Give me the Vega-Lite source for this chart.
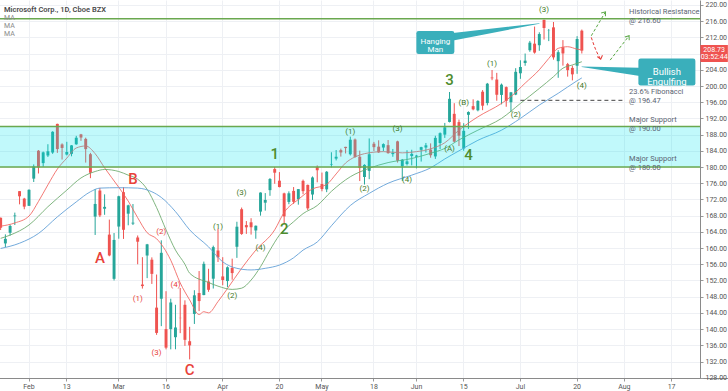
{
  "$schema": "https://vega.github.io/schema/vega-lite/v6.json",
  "width": 700,
  "height": 378,
  "autosize": {"type": "none"},
  "padding": {"left": 0, "top": 0, "right": 28, "bottom": 13},
  "background": "white",
  "config": {"view": {"stroke": null}, "font": "Roboto"},
  "title": {
    "text": "Microsoft Corp., 1D, Cboe BZX",
    "subtitle": ["MA", "MA", "MA"],
    "anchor": "start",
    "frame": "group",
    "orient": "top",
    "offset": -37,
    "dx": 4,
    "fontSize": 7.5,
    "fontWeight": 600,
    "color": "#4a4a4a",
    "subtitleFontSize": 7,
    "subtitleColor": "#8a8a8a",
    "subtitlePadding": 1,
    "subtitleLineHeight": 8
  },
  "datasets": {
    "candles": [
      {"d":"2020-01-24","o":167.51,"h":167.53,"l":164.45,"c":165.04},
      {"d":"2020-01-27","o":161.15,"h":163.38,"l":160.2,"c":162.28},
      {"d":"2020-01-28","o":163.78,"h":165.76,"l":163.07,"c":165.46},
      {"d":"2020-01-29","o":167.84,"h":168.75,"l":165.69,"c":168.04},
      {"d":"2020-01-30","o":174.05,"h":174.05,"l":170.79,"c":172.78},
      {"d":"2020-01-31","o":172.21,"h":172.4,"l":169.58,"c":170.23},
      {"d":"2020-02-03","o":170.43,"h":174.5,"l":170.4,"c":174.38},
      {"d":"2020-02-04","o":177.14,"h":180.64,"l":176.31,"c":180.12},
      {"d":"2020-02-05","o":184.03,"h":184.2,"l":178.41,"c":179.9},
      {"d":"2020-02-06","o":180.97,"h":183.82,"l":180.06,"c":183.63},
      {"d":"2020-02-07","o":182.85,"h":185.63,"l":182.48,"c":183.89},
      {"d":"2020-02-10","o":183.58,"h":188.84,"l":183.25,"c":188.7},
      {"d":"2020-02-11","o":190.65,"h":190.7,"l":183.5,"c":184.44},
      {"d":"2020-02-12","o":185.58,"h":185.85,"l":181.85,"c":184.71},
      {"d":"2020-02-13","o":183.08,"h":186.23,"l":182.87,"c":183.71},
      {"d":"2020-02-14","o":183.25,"h":185.41,"l":182.65,"c":185.35},
      {"d":"2020-02-18","o":185.61,"h":187.7,"l":185.5,"c":187.23},
      {"d":"2020-02-19","o":188.06,"h":188.18,"l":186.47,"c":187.28},
      {"d":"2020-02-20","o":186.95,"h":187.25,"l":181.1,"c":184.42},
      {"d":"2020-02-21","o":183.17,"h":183.5,"l":177.25,"c":178.59},
      {"d":"2020-02-24","o":167.77,"h":174.55,"l":163.23,"c":170.89},
      {"d":"2020-02-25","o":174.2,"h":174.84,"l":167.65,"c":168.07},
      {"d":"2020-02-26","o":169.71,"h":173.26,"l":168.21,"c":170.17},
      {"d":"2020-02-27","o":163.32,"h":167.03,"l":157.98,"c":158.18},
      {"d":"2020-02-28","o":152.41,"h":163.71,"l":152,"c":162.01},
      {"d":"2020-03-02","o":165.31,"h":172.92,"l":162.31,"c":172.79},
      {"d":"2020-03-03","o":173.8,"h":175,"l":162.26,"c":164.51},
      {"d":"2020-03-04","o":168.49,"h":170.7,"l":165.62,"c":170.55},
      {"d":"2020-03-05","o":166.05,"h":170.87,"l":165.69,"c":166.27},
      {"d":"2020-03-06","o":162.61,"h":163.11,"l":156,"c":161.57},
      {"d":"2020-03-09","o":151,"h":157.75,"l":150,"c":150.62},
      {"d":"2020-03-10","o":158.16,"h":161.03,"l":152.58,"c":160.92},
      {"d":"2020-03-11","o":157.13,"h":157.7,"l":151.15,"c":153.63},
      {"d":"2020-03-12","o":145.3,"h":153.47,"l":138.58,"c":139.06},
      {"d":"2020-03-13","o":147.5,"h":161.91,"l":140.73,"c":158.83},
      {"d":"2020-03-16","o":140,"h":149.35,"l":135,"c":135.42},
      {"d":"2020-03-17","o":140,"h":147.5,"l":135,"c":146.57},
      {"d":"2020-03-18","o":138,"h":146,"l":135.02,"c":140.4},
      {"d":"2020-03-19","o":142.77,"h":150.15,"l":139,"c":142.71},
      {"d":"2020-03-20","o":146,"h":147.1,"l":135.86,"c":137.35},
      {"d":"2020-03-23","o":137.01,"h":140.57,"l":132.52,"c":135.98},
      {"d":"2020-03-24","o":143.75,"h":149.6,"l":141.27,"c":148.34},
      {"d":"2020-03-25","o":148.91,"h":154.33,"l":144.44,"c":146.92},
      {"d":"2020-03-26","o":148.4,"h":156.66,"l":148.37,"c":156.11},
      {"d":"2020-03-27","o":151.75,"h":154.89,"l":149.2,"c":149.7},
      {"d":"2020-03-30","o":152.44,"h":160.6,"l":150.01,"c":160.23},
      {"d":"2020-03-31","o":159.4,"h":164.78,"l":156.56,"c":157.71},
      {"d":"2020-04-01","o":153,"h":157.75,"l":150.82,"c":152.11},
      {"d":"2020-04-02","o":151.86,"h":155.48,"l":150.36,"c":155.26},
      {"d":"2020-04-03","o":155.1,"h":157.38,"l":152.19,"c":153.83},
      {"d":"2020-04-06","o":160.32,"h":166.5,"l":157.58,"c":165.27},
      {"d":"2020-04-07","o":169.59,"h":170,"l":163.26,"c":163.49},
      {"d":"2020-04-08","o":165.67,"h":166.67,"l":163.5,"c":165.13},
      {"d":"2020-04-09","o":166.36,"h":167.37,"l":163.33,"c":165.14},
      {"d":"2020-04-13","o":164.35,"h":165.57,"l":162.3,"c":165.51},
      {"d":"2020-04-14","o":169,"h":173.75,"l":168,"c":173.7},
      {"d":"2020-04-15","o":171.2,"h":173.57,"l":169.24,"c":171.88},
      {"d":"2020-04-16","o":174.3,"h":177.28,"l":172.9,"c":177.04},
      {"d":"2020-04-17","o":179.5,"h":180,"l":175.87,"c":178.6},
      {"d":"2020-04-20","o":176.63,"h":178.75,"l":174.99,"c":175.06},
      {"d":"2020-04-21","o":173.5,"h":173.67,"l":166.11,"c":167.82},
      {"d":"2020-04-22","o":171.39,"h":174,"l":170.82,"c":173.52},
      {"d":"2020-04-23","o":174.11,"h":175.06,"l":170.91,"c":171.42},
      {"d":"2020-04-24","o":172.06,"h":174.56,"l":170.71,"c":174.55},
      {"d":"2020-04-27","o":176.59,"h":176.9,"l":173.3,"c":174.05},
      {"d":"2020-04-28","o":175.59,"h":175.67,"l":169.39,"c":169.81},
      {"d":"2020-04-29","o":173.22,"h":177.68,"l":171.88,"c":177.43},
      {"d":"2020-04-30","o":180,"h":180.4,"l":176.23,"c":179.21},
      {"d":"2020-05-01","o":175.8,"h":178.64,"l":174.01,"c":174.57},
      {"d":"2020-05-04","o":174.49,"h":179,"l":173.8,"c":178.84},
      {"d":"2020-05-05","o":180.62,"h":183.65,"l":179.9,"c":180.76},
      {"d":"2020-05-06","o":182.08,"h":184.2,"l":181.63,"c":182.54},
      {"d":"2020-05-07","o":184.17,"h":184.55,"l":182.58,"c":183.6},
      {"d":"2020-05-08","o":184.98,"h":185,"l":183.36,"c":184.68},
      {"d":"2020-05-11","o":183.15,"h":187.51,"l":182.85,"c":186.74},
      {"d":"2020-05-12","o":186.8,"h":187.04,"l":182.3,"c":182.51},
      {"d":"2020-05-13","o":182.55,"h":184.05,"l":176.54,"c":179.75},
      {"d":"2020-05-14","o":177.54,"h":180.69,"l":175.68,"c":180.53},
      {"d":"2020-05-15","o":179.06,"h":187.06,"l":177,"c":183.16},
      {"d":"2020-05-18","o":185.75,"h":186.2,"l":183.96,"c":184.91},
      {"d":"2020-05-19","o":185.03,"h":186.6,"l":183.49,"c":183.63},
      {"d":"2020-05-20","o":184.81,"h":185.85,"l":183.94,"c":185.66},
      {"d":"2020-05-21","o":185.4,"h":186.67,"l":183.29,"c":183.43},
      {"d":"2020-05-22","o":183.19,"h":184.46,"l":182.54,"c":183.51},
      {"d":"2020-05-26","o":186.34,"h":186.5,"l":181.1,"c":181.57},
      {"d":"2020-05-27","o":180.2,"h":181.99,"l":176.6,"c":181.81},
      {"d":"2020-05-28","o":180.74,"h":184.15,"l":180.38,"c":181.4},
      {"d":"2020-05-29","o":182.73,"h":184.27,"l":180.41,"c":183.25},
      {"d":"2020-06-01","o":182.54,"h":183,"l":179.67,"c":182.83},
      {"d":"2020-06-02","o":184.25,"h":185,"l":181.35,"c":184.91},
      {"d":"2020-06-03","o":184.82,"h":185.94,"l":183.58,"c":185.36},
      {"d":"2020-06-04","o":184.3,"h":185.84,"l":182.3,"c":182.92},
      {"d":"2020-06-05","o":182.62,"h":187.73,"l":182.01,"c":187.2},
      {"d":"2020-06-08","o":185.94,"h":188.55,"l":184.44,"c":188.36},
      {"d":"2020-06-09","o":188,"h":190.89,"l":187.19,"c":189.8},
      {"d":"2020-06-10","o":191.13,"h":198.52,"l":191.01,"c":196.84},
      {"d":"2020-06-11","o":193.13,"h":195.76,"l":186.07,"c":186.27},
      {"d":"2020-06-12","o":191.09,"h":191.72,"l":185.18,"c":187.74},
      {"d":"2020-06-15","o":184.58,"h":190.82,"l":184.01,"c":188.94},
      {"d":"2020-06-16","o":192.89,"h":193.75,"l":189.41,"c":193.57},
      {"d":"2020-06-17","o":195.03,"h":196.71,"l":194,"c":194.24},
      {"d":"2020-06-18","o":194,"h":196.49,"l":193.75,"c":196.32},
      {"d":"2020-06-19","o":198.59,"h":199,"l":194.04,"c":195.15},
      {"d":"2020-06-22","o":195.79,"h":200.76,"l":195.23,"c":200.57},
      {"d":"2020-06-23","o":202.09,"h":203.95,"l":201.43,"c":201.91},
      {"d":"2020-06-24","o":201.6,"h":203.25,"l":196.36,"c":197.84},
      {"d":"2020-06-25","o":197.8,"h":200.61,"l":195.47,"c":200.34},
      {"d":"2020-06-26","o":199.73,"h":199.89,"l":194.88,"c":196.33},
      {"d":"2020-06-29","o":196,"h":198.53,"l":193.55,"c":198.44},
      {"d":"2020-06-30","o":197.88,"h":204.4,"l":197.74,"c":203.51},
      {"d":"2020-07-01","o":203.14,"h":206.35,"l":201.77,"c":204.7},
      {"d":"2020-07-02","o":205.68,"h":208.02,"l":205,"c":206.26},
      {"d":"2020-07-06","o":208.83,"h":211.13,"l":208.44,"c":210.7},
      {"d":"2020-07-07","o":210.45,"h":214.67,"l":207.99,"c":208.25},
      {"d":"2020-07-08","o":210.07,"h":213.26,"l":208.69,"c":212.83},
      {"d":"2020-07-09","o":216.33,"h":216.38,"l":211.47,"c":214.32},
      {"d":"2020-07-10","o":213.62,"h":214.08,"l":211.08,"c":213.67},
      {"d":"2020-07-13","o":214.48,"h":215.8,"l":206.5,"c":207.07},
      {"d":"2020-07-14","o":206.13,"h":208.85,"l":202.03,"c":208.35},
      {"d":"2020-07-15","o":209.56,"h":211.33,"l":205.03,"c":208.04},
      {"d":"2020-07-16","o":205.4,"h":205.7,"l":202.31,"c":203.92},
      {"d":"2020-07-17","o":204.47,"h":205.04,"l":201.39,"c":202.88},
      {"d":"2020-07-20","o":205,"h":212.3,"l":203.01,"c":211.6},
      {"d":"2020-07-21","o":213.66,"h":213.94,"l":208.03,"c":208.73}
    ],
    "ma": [
      {"d":"2020-01-24","s":"f","p":165.4},{"d":"2020-01-29","s":"f","p":166.2},{"d":"2020-02-03","s":"f","p":167.9},{"d":"2020-02-05","s":"f","p":171.5},{"d":"2020-02-07","s":"f","p":175.6},{"d":"2020-02-11","s":"f","p":179.5},{"d":"2020-02-13","s":"f","p":182.2},{"d":"2020-02-18","s":"f","p":184.7},{"d":"2020-02-20","s":"f","p":185.2},{"d":"2020-02-24","s":"f","p":183.3},{"d":"2020-02-26","s":"f","p":179.8},{"d":"2020-03-02","s":"f","p":175.0},{"d":"2020-03-04","s":"f","p":171.6},{"d":"2020-03-06","s":"f","p":167.5},{"d":"2020-03-10","s":"f","p":163.8},{"d":"2020-03-12","s":"f","p":162.3},{"d":"2020-03-17","s":"f","p":157.0},{"d":"2020-03-19","s":"f","p":151.4},{"d":"2020-03-23","s":"f","p":147.2},{"d":"2020-03-25","s":"f","p":143.6},{"d":"2020-03-26","s":"f","p":144.3},{"d":"2020-03-27","s":"f","p":144.0},{"d":"2020-03-31","s":"f","p":146.8},{"d":"2020-04-02","s":"f","p":150.0},{"d":"2020-04-07","s":"f","p":155.0},{"d":"2020-04-13","s":"f","p":159.5},{"d":"2020-04-17","s":"f","p":164.5},{"d":"2020-04-21","s":"f","p":168.8},{"d":"2020-04-24","s":"f","p":172.0},{"d":"2020-04-29","s":"f","p":174.6},{"d":"2020-05-04","s":"f","p":175.7},{"d":"2020-05-06","s":"f","p":178.3},{"d":"2020-05-08","s":"f","p":181.0},{"d":"2020-05-12","s":"f","p":182.5},{"d":"2020-05-14","s":"f","p":183.3},{"d":"2020-05-20","s":"f","p":183.8},{"d":"2020-05-27","s":"f","p":183.5},{"d":"2020-06-01","s":"f","p":183.8},{"d":"2020-06-04","s":"f","p":184.5},{"d":"2020-06-09","s":"f","p":186.0},{"d":"2020-06-12","s":"f","p":189.1},{"d":"2020-06-18","s":"f","p":192.4},{"d":"2020-06-25","s":"f","p":195.7},{"d":"2020-06-29","s":"f","p":197.4},{"d":"2020-07-02","s":"f","p":200.7},{"d":"2020-07-08","s":"f","p":204.0},{"d":"2020-07-10","s":"f","p":206.8},{"d":"2020-07-14","s":"f","p":209.3},{"d":"2020-07-16","s":"f","p":209.7},{"d":"2020-07-20","s":"f","p":209.1},{"d":"2020-07-21","s":"f","p":208.9},
      {"d":"2020-01-24","s":"m","p":162.4},{"d":"2020-01-28","s":"m","p":163.2},{"d":"2020-02-03","s":"m","p":165.7},{"d":"2020-02-07","s":"m","p":170.2},{"d":"2020-02-13","s":"m","p":174.3},{"d":"2020-02-19","s":"m","p":177.3},{"d":"2020-02-24","s":"m","p":178.9},{"d":"2020-02-26","s":"m","p":179.4},{"d":"2020-03-02","s":"m","p":178.9},{"d":"2020-03-04","s":"m","p":178.0},{"d":"2020-03-06","s":"m","p":177.0},{"d":"2020-03-10","s":"m","p":174.5},{"d":"2020-03-12","s":"m","p":170.0},{"d":"2020-03-16","s":"m","p":164.5},{"d":"2020-03-18","s":"m","p":159.5},{"d":"2020-03-20","s":"m","p":156.0},{"d":"2020-03-23","s":"m","p":153.8},{"d":"2020-03-27","s":"m","p":151.5},{"d":"2020-03-31","s":"m","p":150.6},{"d":"2020-04-03","s":"m","p":149.8},{"d":"2020-04-07","s":"m","p":150.1},{"d":"2020-04-09","s":"m","p":152.1},{"d":"2020-04-14","s":"m","p":155.4},{"d":"2020-04-16","s":"m","p":159.5},{"d":"2020-04-20","s":"m","p":163.2},{"d":"2020-04-23","s":"m","p":166.5},{"d":"2020-04-27","s":"m","p":168.5},{"d":"2020-04-30","s":"m","p":170.5},{"d":"2020-05-05","s":"m","p":174.0},{"d":"2020-05-11","s":"m","p":177.6},{"d":"2020-05-15","s":"m","p":179.7},{"d":"2020-05-21","s":"m","p":181.1},{"d":"2020-05-29","s":"m","p":182.1},{"d":"2020-06-04","s":"m","p":183.4},{"d":"2020-06-09","s":"m","p":184.6},{"d":"2020-06-12","s":"m","p":186.7},{"d":"2020-06-18","s":"m","p":189.1},{"d":"2020-06-25","s":"m","p":192.0},{"d":"2020-07-01","s":"m","p":195.7},{"d":"2020-07-08","s":"m","p":199.4},{"d":"2020-07-13","s":"m","p":202.3},{"d":"2020-07-15","s":"m","p":204.4},{"d":"2020-07-17","s":"m","p":205.2},{"d":"2020-07-21","s":"m","p":206.0},
      {"d":"2020-01-24","s":"s","p":159.9},{"d":"2020-01-30","s":"s","p":161.2},{"d":"2020-02-05","s":"s","p":163.6},{"d":"2020-02-11","s":"s","p":167.7},{"d":"2020-02-18","s":"s","p":171.4},{"d":"2020-02-21","s":"s","p":173.9},{"d":"2020-02-25","s":"s","p":174.8},{"d":"2020-03-02","s":"s","p":174.9},{"d":"2020-03-06","s":"s","p":174.8},{"d":"2020-03-11","s":"s","p":173.9},{"d":"2020-03-13","s":"s","p":172.5},{"d":"2020-03-18","s":"s","p":169.0},{"d":"2020-03-23","s":"s","p":164.5},{"d":"2020-03-27","s":"s","p":160.3},{"d":"2020-04-01","s":"s","p":156.6},{"d":"2020-04-06","s":"s","p":155.0},{"d":"2020-04-09","s":"s","p":154.6},{"d":"2020-04-15","s":"s","p":155.0},{"d":"2020-04-20","s":"s","p":155.8},{"d":"2020-04-23","s":"s","p":157.6},{"d":"2020-04-27","s":"s","p":159.5},{"d":"2020-04-30","s":"s","p":161.5},{"d":"2020-05-05","s":"s","p":165.5},{"d":"2020-05-11","s":"s","p":170.5},{"d":"2020-05-15","s":"s","p":173.5},{"d":"2020-05-21","s":"s","p":176.0},{"d":"2020-05-29","s":"s","p":178.0},{"d":"2020-06-04","s":"s","p":179.8},{"d":"2020-06-09","s":"s","p":182.0},{"d":"2020-06-12","s":"s","p":184.0},{"d":"2020-06-18","s":"s","p":186.6},{"d":"2020-06-25","s":"s","p":189.1},{"d":"2020-07-01","s":"s","p":192.0},{"d":"2020-07-08","s":"s","p":195.3},{"d":"2020-07-14","s":"s","p":198.2},{"d":"2020-07-20","s":"s","p":201.3},{"d":"2020-07-21","s":"s","p":202.0}
    ],
    "waves": [
      {"d":"2020-02-25","p":157.55,"t":"A","k":"rb"},
      {"d":"2020-03-05","p":176.98,"t":"B","k":"rb"},
      {"d":"2020-03-23","p":129.9,"t":"C","k":"rb"},
      {"d":"2020-03-06","p":147.4,"t":"(1)","k":"rs"},
      {"d":"2020-03-13","p":164.04,"t":"(2)","k":"rs"},
      {"d":"2020-03-12","p":134.17,"t":"(3)","k":"rs"},
      {"d":"2020-03-18","p":150.88,"t":"(4)","k":"rs"},
      {"d":"2020-04-17","p":183.2,"t":"1","k":"gb"},
      {"d":"2020-04-21","p":164.63,"t":"2","k":"gb"},
      {"d":"2020-06-10","p":201.49,"t":"3","k":"gb"},
      {"d":"2020-06-16","p":182.97,"t":"4","k":"gb"},
      {"d":"2020-03-31","p":165.12,"t":"(1)","k":"gs"},
      {"d":"2020-04-03","p":148.24,"t":"(2)","k":"gs"},
      {"d":"2020-04-07","p":173.67,"t":"(3)","k":"gs"},
      {"d":"2020-04-14","p":160.09,"t":"(4)","k":"gs"},
      {"d":"2020-05-11","p":188.72,"t":"(1)","k":"gs"},
      {"d":"2020-05-14","p":174.5,"t":"(2)","k":"gs"},
      {"d":"2020-05-26","p":189.35,"t":"(3)","k":"gs"},
      {"d":"2020-05-28","p":176.8,"t":"(4)","k":"gs"},
      {"d":"2020-06-10","p":184.45,"t":"(A)","k":"gs"},
      {"d":"2020-06-15","p":195.74,"t":"(B)","k":"gs"},
      {"d":"2020-06-23","p":205.36,"t":"(1)","k":"gs"},
      {"d":"2020-06-30","p":192.85,"t":"(2)","k":"gs"},
      {"d":"2020-07-09","p":218.77,"t":"(3)","k":"gs"},
      {"d":"2020-07-21","p":200.08,"t":"(4)","k":"gs"}
    ],
    "notes": [
      {"d":"2020-08-04","p":218.27,"t":"Historical Resistance"},
      {"d":"2020-08-04","p":216.17,"t":"@ 216.60"},
      {"d":"2020-08-04","p":198.52,"t":"23.6% Fibonacci"},
      {"d":"2020-08-04","p":196.3,"t":"@ 196.47"},
      {"d":"2020-08-04","p":191.61,"t":"Major Support"},
      {"d":"2020-08-04","p":189.39,"t":"@ 190.00"},
      {"d":"2020-08-04","p":181.98,"t":"Major Support"},
      {"d":"2020-08-04","p":179.76,"t":"@ 180.00"}
    ],
    "paths": [
      {"g":"up1","d":"2020-07-23","p":212.4},{"g":"up1","d":"2020-07-28","p":218.3},
      {"g":"down","d":"2020-07-23","p":212.0},{"g":"down","d":"2020-07-24","p":208.8},{"g":"down","d":"2020-07-27","p":206.6},
      {"g":"up2","d":"2020-07-29","p":206.4},{"g":"up2","d":"2020-08-04","p":212.4}
    ],
    "heads": [
      {"g":"up1","d":"2020-07-28","p":218.3,"dir":38},
      {"g":"down","d":"2020-07-27","p":206.6,"dir":165},
      {"g":"up2","d":"2020-08-04","p":212.4,"dir":36}
    ],
    "pointers": [
      {"g":"hm","d":"2020-06-09","p":211.85,"e":"base"},{"g":"hm","d":"2020-07-08","p":215.43,"e":"tip"},
      {"g":"be","d":"2020-08-06","p":203.5,"e":"base"},{"g":"be","d":"2020-07-21","p":204.77,"e":"tip"}
    ]
  },
  "layer": [
    {
      "data": {"name": "candles"},
      "mark": {"type": "rule", "strokeWidth": 1},
      "encoding": {
        "x": {"field": "d", "type": "ordinal",
          "scale": {"type": "band", "paddingInner": 0, "paddingOuter": 0, "range": [-1.71, 730.67],
            "domain": ["2020-01-24","2020-01-27","2020-01-28","2020-01-29","2020-01-30","2020-01-31","2020-02-03","2020-02-04","2020-02-05","2020-02-06","2020-02-07","2020-02-10","2020-02-11","2020-02-12","2020-02-13","2020-02-14","2020-02-18","2020-02-19","2020-02-20","2020-02-21","2020-02-24","2020-02-25","2020-02-26","2020-02-27","2020-02-28","2020-03-02","2020-03-03","2020-03-04","2020-03-05","2020-03-06","2020-03-09","2020-03-10","2020-03-11","2020-03-12","2020-03-13","2020-03-16","2020-03-17","2020-03-18","2020-03-19","2020-03-20","2020-03-23","2020-03-24","2020-03-25","2020-03-26","2020-03-27","2020-03-30","2020-03-31","2020-04-01","2020-04-02","2020-04-03","2020-04-06","2020-04-07","2020-04-08","2020-04-09","2020-04-13","2020-04-14","2020-04-15","2020-04-16","2020-04-17","2020-04-20","2020-04-21","2020-04-22","2020-04-23","2020-04-24","2020-04-27","2020-04-28","2020-04-29","2020-04-30","2020-05-01","2020-05-04","2020-05-05","2020-05-06","2020-05-07","2020-05-08","2020-05-11","2020-05-12","2020-05-13","2020-05-14","2020-05-15","2020-05-18","2020-05-19","2020-05-20","2020-05-21","2020-05-22","2020-05-26","2020-05-27","2020-05-28","2020-05-29","2020-06-01","2020-06-02","2020-06-03","2020-06-04","2020-06-05","2020-06-08","2020-06-09","2020-06-10","2020-06-11","2020-06-12","2020-06-15","2020-06-16","2020-06-17","2020-06-18","2020-06-19","2020-06-22","2020-06-23","2020-06-24","2020-06-25","2020-06-26","2020-06-29","2020-06-30","2020-07-01","2020-07-02","2020-07-06","2020-07-07","2020-07-08","2020-07-09","2020-07-10","2020-07-13","2020-07-14","2020-07-15","2020-07-16","2020-07-17","2020-07-20","2020-07-21","2020-07-22","2020-07-23","2020-07-24","2020-07-27","2020-07-28","2020-07-29","2020-07-30","2020-07-31","2020-08-03","2020-08-04","2020-08-05","2020-08-06","2020-08-07","2020-08-10","2020-08-11","2020-08-12","2020-08-13","2020-08-14","2020-08-17","2020-08-18","2020-08-19","2020-08-20","2020-08-21","2020-08-24","2020-08-25","2020-08-26","2020-08-27","2020-08-28","2020-08-31","2020-09-01","2020-09-02"]},
          "axis": {"title": null, "values": ["2020-02-03","2020-02-13","2020-03-02","2020-03-16","2020-04-01","2020-04-20","2020-05-01","2020-05-18","2020-06-01","2020-06-15","2020-07-01","2020-07-20","2020-08-03","2020-08-17"],
            "labelExpr": "utcdate(toDate(datum.value)) <= 3 ? utcFormat(toDate(datum.value), '%b') : '' + utcdate(toDate(datum.value))",
            "labelAngle": 0, "labelFontSize": 7, "labelColor": "#555555", "labelPadding": 1, "tickSize": 3, "tickColor": "#999999",
            "domainColor": "#8a8a8a", "grid": true, "gridColor": "#eef0f4", "labelOverlap": false, "labelBound": false}},
        "y": {"field": "l", "type": "quantitative",
          "scale": {"domain": [127.93, 221.23], "nice": false, "zero": false},
          "axis": {"title": null, "orient": "right", "tickCount": 40, "values": [128,132,136,140,144,148,152,156,160,164,168,172,176,180,184,188,192,196,200,204,208,212,216,220],
            "labelExpr": "datum.value == 208 ? '' : format(datum.value, '.2f')",
            "labelOverlap": false, "labelFlush": false, "labelBound": false,
            "labelFontSize": 7, "labelColor": "#555555", "labelPadding": 2, "tickSize": 3, "tickColor": "#999999",
            "domainColor": "#8a8a8a", "grid": true, "gridColor": "#eef0f4"}},
        "y2": {"field": "h"},
        "color": {"condition": {"test": "datum.c >= datum.o", "value": "#26a69a"}, "value": "#ef5350"}
      }
    },
    {
      "data": {"name": "candles"},
      "mark": {"type": "bar", "width": {"band": 0.62}},
      "encoding": {
        "x": {"field": "d", "type": "ordinal"},
        "y": {"field": "o", "type": "quantitative", "scale": {"domain": [127.93, 221.23], "nice": false, "zero": false}},
        "y2": {"field": "c"},
        "color": {"condition": {"test": "datum.c >= datum.o", "value": "#26a69a"}, "value": "#ef5350"}
      }
    },
    {
      "data": {"name": "ma"},
      "mark": {"type": "line", "strokeWidth": 1, "opacity": 0.85, "interpolate": "monotone"},
      "encoding": {
        "x": {"field": "d", "type": "ordinal"},
        "y": {"field": "p", "type": "quantitative", "scale": {"domain": [127.93, 221.23], "nice": false, "zero": false}},
        "color": {"field": "s", "type": "nominal", "scale": {"domain": ["f","m","s"], "range": ["#f0625d","#6aa86a","#5b9bd5"]}, "legend": null}
      }
    },
    {
      "data": {"values": [{"lo": 180, "hi": 190}]},
      "mark": {"type": "rect", "color": "#00e5f0", "opacity": 0.243},
      "encoding": {
        "y": {"field": "hi", "type": "quantitative", "scale": {"domain": [127.93, 221.23], "nice": false, "zero": false}},
        "y2": {"field": "lo"}
      }
    },
    {
      "data": {"values": [{"p": 216.6}, {"p": 190}, {"p": 180}]},
      "mark": {"type": "rule", "color": "#6aa84f", "strokeWidth": 1.4},
      "encoding": {
        "y": {"field": "p", "type": "quantitative", "scale": {"domain": [127.93, 221.23], "nice": false, "zero": false}}
      }
    },
    {
      "data": {"values": [{"d": "2020-07-01", "d2": "2020-08-03", "p": 196.47}]},
      "mark": {"type": "rule", "color": "#444444", "strokeWidth": 1, "strokeDash": [4, 3]},
      "encoding": {
        "x": {"field": "d", "type": "ordinal"},
        "x2": {"field": "d2"},
        "y": {"field": "p", "type": "quantitative", "scale": {"domain": [127.93, 221.23], "nice": false, "zero": false}}
      }
    },
    {
      "data": {"name": "paths"},
      "mark": {"type": "line", "strokeWidth": 1, "strokeDash": [3, 2], "interpolate": "monotone"},
      "encoding": {
        "x": {"field": "d", "type": "ordinal"},
        "y": {"field": "p", "type": "quantitative", "scale": {"domain": [127.93, 221.23], "nice": false, "zero": false}},
        "detail": {"field": "g"},
        "color": {"condition": {"test": "datum.g == 'down'", "value": "#e53935"}, "value": "#5aa845"}
      }
    },
    {
      "data": {"name": "heads"},
      "mark": {"type": "point", "filled": false, "strokeWidth": 1, "opacity": 1, "size": 60,
        "shape": "M-0.7,0.9L0,0L0.7,0.9"},
      "encoding": {
        "x": {"field": "d", "type": "ordinal"},
        "y": {"field": "p", "type": "quantitative", "scale": {"domain": [127.93, 221.23], "nice": false, "zero": false}},
        "angle": {"field": "dir", "type": "quantitative", "scale": null},
        "color": {"condition": {"test": "datum.g == 'down'", "value": "#e53935"}, "value": "#5aa845"}
      }
    },
    {
      "data": {"name": "pointers"},
      "mark": {"type": "trail", "color": "#3aafbb"},
      "encoding": {
        "x": {"field": "d", "type": "ordinal"},
        "y": {"field": "p", "type": "quantitative", "scale": {"domain": [127.93, 221.23], "nice": false, "zero": false}},
        "detail": {"field": "g"},
        "size": {"field": "e", "type": "ordinal", "scale": {"domain": ["base", "tip"], "range": [8, 0.5]}, "legend": null}
      }
    },
    {
      "data": {"values": [{"d": "2020-06-05", "p": 210.74}]},
      "mark": {"type": "point", "filled": true, "opacity": 1, "color": "#3aafbb", "size": 1444,
        "shape": "M-0.88,-0.605H0.88Q1,-0.605 1,-0.485V0.485Q1,0.605 0.88,0.605H-0.88Q-1,0.605 -1,0.485V-0.485Q-1,-0.605 -0.88,-0.605Z"},
      "encoding": {
        "x": {"field": "d", "type": "ordinal"},
        "y": {"field": "p", "type": "quantitative", "scale": {"domain": [127.93, 221.23], "nice": false, "zero": false}}
      }
    },
    {
      "data": {"values": [{"d": "2020-08-14", "p": 203.46}]},
      "mark": {"type": "point", "filled": true, "opacity": 1, "color": "#3aafbb", "size": 3249,
        "shape": "M-0.92,-0.474H0.92Q1,-0.474 1,-0.394V0.394Q1,0.474 0.92,0.474H-0.92Q-1,0.474 -1,0.394V-0.394Q-1,-0.474 -0.92,-0.474Z"},
      "encoding": {
        "x": {"field": "d", "type": "ordinal"},
        "y": {"field": "p", "type": "quantitative", "scale": {"domain": [127.93, 221.23], "nice": false, "zero": false}}
      }
    },
    {
      "data": {"values": [{"d": "2020-06-05", "p": 210.74, "t": "Hanging\nMan"}]},
      "mark": {"type": "text", "color": "white", "fontSize": 8, "lineHeight": 8, "lineBreak": "\n", "align": "center", "baseline": "middle"},
      "encoding": {
        "x": {"field": "d", "type": "ordinal"},
        "y": {"field": "p", "type": "quantitative", "scale": {"domain": [127.93, 221.23], "nice": false, "zero": false}},
        "text": {"field": "t"}
      }
    },
    {
      "data": {"values": [{"d": "2020-08-14", "p": 203.46, "t": "Bullish\nEngulfing"}]},
      "mark": {"type": "text", "color": "white", "fontSize": 9.5, "lineHeight": 10, "lineBreak": "\n", "align": "center", "baseline": "middle"},
      "encoding": {
        "x": {"field": "d", "type": "ordinal"},
        "y": {"field": "p", "type": "quantitative", "scale": {"domain": [127.93, 221.23], "nice": false, "zero": false}},
        "text": {"field": "t"}
      }
    },
    {
      "data": {"name": "waves"},
      "transform": [{"filter": "datum.k == 'rb' || datum.k == 'gb'"}],
      "mark": {"type": "text", "fontSize": 15, "fontWeight": 500, "align": "center", "baseline": "middle"},
      "encoding": {
        "x": {"field": "d", "type": "ordinal"},
        "y": {"field": "p", "type": "quantitative", "scale": {"domain": [127.93, 221.23], "nice": false, "zero": false}},
        "text": {"field": "t"},
        "color": {"condition": {"test": "datum.k == 'rb'", "value": "#e8423a"}, "value": "#4e8c2e"}
      }
    },
    {
      "data": {"name": "waves"},
      "transform": [{"filter": "datum.k == 'rs' || datum.k == 'gs'"}],
      "mark": {"type": "text", "fontSize": 8, "align": "center", "baseline": "middle"},
      "encoding": {
        "x": {"field": "d", "type": "ordinal"},
        "y": {"field": "p", "type": "quantitative", "scale": {"domain": [127.93, 221.23], "nice": false, "zero": false}},
        "text": {"field": "t"},
        "color": {"condition": {"test": "datum.k == 'rs'", "value": "#e8423a"}, "value": "#447a28"}
      }
    },
    {
      "data": {"name": "notes"},
      "mark": {"type": "text", "fontSize": 7.5, "align": "left", "baseline": "middle", "color": "#5a6472"},
      "encoding": {
        "x": {"field": "d", "type": "ordinal"},
        "y": {"field": "p", "type": "quantitative", "scale": {"domain": [127.93, 221.23], "nice": false, "zero": false}},
        "text": {"field": "t"}
      }
    },
    {
      "data": {"values": [{"d": "2020-08-28", "p": 208.03}]},
      "mark": {"type": "point", "filled": true, "opacity": 1, "color": "#ef5350", "size": 756,
        "shape": "M-1,-0.618H1V0.618H-1Z"},
      "encoding": {
        "x": {"field": "d", "type": "ordinal"},
        "y": {"field": "p", "type": "quantitative", "scale": {"domain": [127.93, 221.23], "nice": false, "zero": false}}
      }
    },
    {
      "data": {"values": [{"d": "2020-08-28", "p": 209.0, "t": "208.73"}, {"d": "2020-08-28", "p": 207.04, "t": "03:52:44"}]},
      "mark": {"type": "text", "color": "white", "fontSize": 7, "align": "center", "baseline": "middle"},
      "encoding": {
        "x": {"field": "d", "type": "ordinal"},
        "y": {"field": "p", "type": "quantitative", "scale": {"domain": [127.93, 221.23], "nice": false, "zero": false}},
        "text": {"field": "t"}
      }
    }
  ]
}
